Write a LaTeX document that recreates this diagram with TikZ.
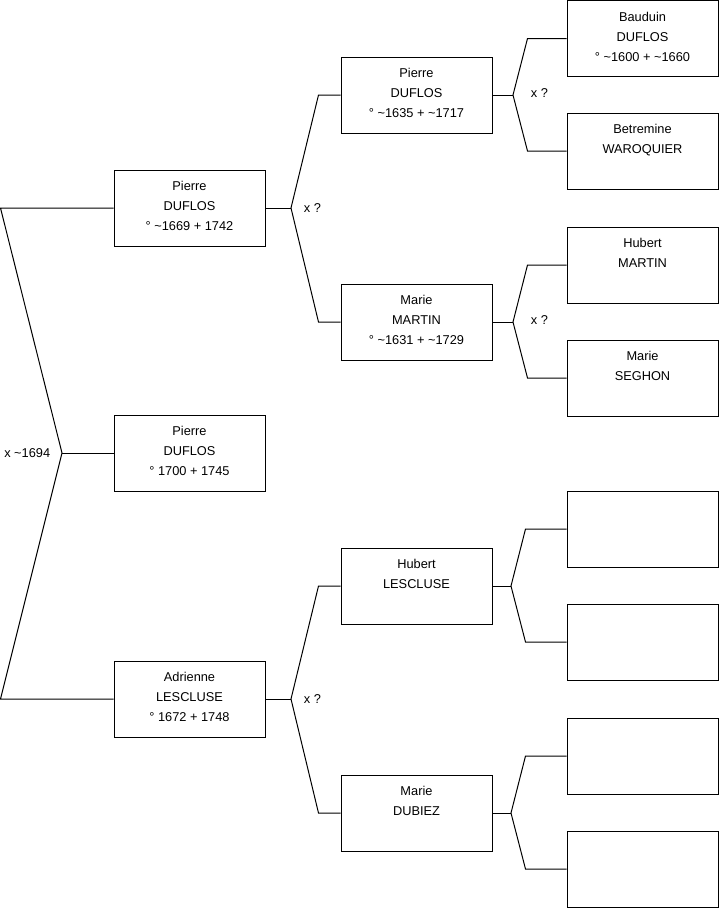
\documentclass[tikz,border=0pt]{standalone}
\usepackage{fontspec}
\setmainfont{Liberation Sans}
\begin{document}
\begin{tikzpicture}[x=0.75pt, y=-0.75pt, line width=0.75pt,
  box/.style={draw, minimum width=113.25pt, minimum height=57pt, inner sep=0pt, text depth=3pt, align=center, font=\fontsize{9.6}{15}\selectfont},
  tag/.style={font=\fontsize{9.6}{15}\selectfont, inner sep=1pt}]
\useasboundingbox (0,0) rectangle (719,908);
% generation 1
\node[box] (pierre1700) at (189.5,453) {Pierre\\DUFLOS\\° 1700 + 1745};
% generation 2
\node[box] (pierre1669) at (189.5,208) {Pierre\\DUFLOS\\° \textasciitilde1669 + 1742};
\node[box] (adrienne) at (189.5,699) {Adrienne\\LESCLUSE\\° 1672 + 1748};
% generation 3
\node[box] (pierre1635) at (416.5,95) {Pierre\\DUFLOS\\° \textasciitilde1635 + \textasciitilde1717};
\node[box] (mariemartin) at (416.5,322) {Marie\\MARTIN\\° \textasciitilde1631 + \textasciitilde1729};
\node[box] (hubertlescluse) at (416.5,586) {Hubert\\LESCLUSE\\\mbox{}};
\node[box] (mariedubiez) at (416.5,813) {Marie\\DUBIEZ\\\mbox{}};
% generation 4
\node[box] (bauduin) at (642.5,38.5) {Bauduin\\DUFLOS\\° \textasciitilde1600 + \textasciitilde1660};
\node[box] (betremine) at (642.5,151) {Betremine\\WAROQUIER\\\mbox{}};
\node[box] (hubertmartin) at (642.5,265) {Hubert\\MARTIN\\\mbox{}};
\node[box] (marieseghon) at (642.5,378) {Marie\\SEGHON\\\mbox{}};
\node[box] (e1) at (642.5,529) {};
\node[box] (e2) at (642.5,642) {};
\node[box] (e3) at (642.5,756) {};
\node[box] (e4) at (642.5,869) {};
% unions
\coordinate (u0) at (62,453);
\coordinate (u0a) at (0.5,208);
\coordinate (u0b) at (0.5,699);
\draw (pierre1669.west) -- (u0a) -- (u0) -- (u0b) -- (adrienne.west);
\draw (u0) -- (pierre1700.west);
\node[tag, anchor=east] (m0) at (52,453) {x \textasciitilde1694};
\coordinate (u1) at (291,208);
\draw (pierre1669.east) -- (u1);
\draw (pierre1635.west) -- ++(-22,0) coordinate (u1a) -- (u1) -- (mariemartin.west -| u1a) -- (mariemartin.west);
\node[tag, anchor=west] (m1) at (302,208) {x ?};
\coordinate (u2) at (291,699);
\draw (adrienne.east) -- (u2);
\draw (hubertlescluse.west) -- ++(-22,0) coordinate (u2a) -- (u2) -- (mariedubiez.west -| u2a) -- (mariedubiez.west);
\node[tag, anchor=west] (m2) at (302,699) {x ?};
\coordinate (u3) at (513,95);
\draw (pierre1635.east) -- (u3);
\draw (bauduin.west) -- ++(-39,0) coordinate (u3a) -- (u3) -- (betremine.west -| u3a) -- (betremine.west);
\node[tag, anchor=west] (m3) at (529,93) {x ?};
\coordinate (u4) at (513,322);
\draw (mariemartin.east) -- (u4);
\draw (hubertmartin.west) -- ++(-39,0) coordinate (u4a) -- (u4) -- (marieseghon.west -| u4a) -- (marieseghon.west);
\node[tag, anchor=west] (m4) at (529,320) {x ?};
\coordinate (u5) at (511,586);
\draw (hubertlescluse.east) -- (u5);
\draw (e1.west) -- ++(-41,0) coordinate (u5a) -- (u5) -- (e2.west -| u5a) -- (e2.west);
\coordinate (u6) at (511,813);
\draw (mariedubiez.east) -- (u6);
\draw (e3.west) -- ++(-41,0) coordinate (u6a) -- (u6) -- (e4.west -| u6a) -- (e4.west);
\end{tikzpicture}
\end{document}
